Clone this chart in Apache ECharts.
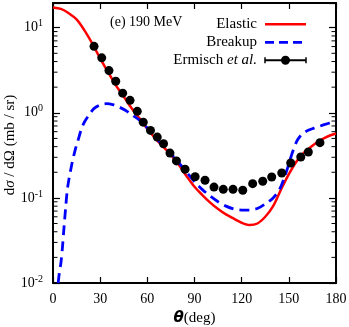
<!DOCTYPE html>
<html><head><meta charset="utf-8">
<script src="https://cdn.jsdelivr.net/npm/echarts@6/dist/echarts.min.js"></script>
<style>html,body{margin:0;padding:0;background:#fff}#c{width:349px;height:327px}</style>
</head><body><div id="c"></div>
<script>
// ---- data ----
const elasticTheta = [0,5,10,15,20,25,30,35,40,45,50,55,60,65,70,75,80,85,90,95,100,105,110,115,120,125,130,135,140,145,150,155,160,165,170,175,180];
const elasticVal   = [17.3,16.6,14.8,12.5,9.3,6.5,4.35,3.0,2.1,1.55,1.13,0.86,0.65,0.50,0.40,0.32,0.245,0.18,0.135,0.108,0.088,0.074,0.064,0.057,0.051,0.048,0.050,0.060,0.080,0.125,0.19,0.27,0.345,0.41,0.475,0.53,0.57];
const breakupTheta = [3.3,4,5,6,7,8,9,10,12,14,16,18,20,23,26,30,34,38,42,46,50,55,60,65,70,75,80,85,90,95,100,105,110,115,120,125,130,135,140,144,147,150,152,155,158,162,166,172,180];
const breakupVal   = [0.01,0.013,0.017,0.026,0.045,0.075,0.12,0.16,0.25,0.36,0.48,0.64,0.78,0.95,1.12,1.24,1.28,1.25,1.17,1.07,0.95,0.82,0.66,0.52,0.41,0.33,0.26,0.20,0.155,0.125,0.105,0.090,0.080,0.074,0.072,0.072,0.075,0.085,0.10,0.125,0.17,0.25,0.33,0.46,0.55,0.62,0.66,0.72,0.80];
const expTheta = [26.1,31.0,35.6,39.9,44.3,49.0,53.6,57.4,62.0,66.3,70.3,74.4,78.5,84.0,90.4,96.7,102.4,108.3,114.5,120.7,127.0,133.4,139.1,145.5,151.2,157.6,162.4,169.8];
const expVal   = [6.04,4.42,3.13,2.35,1.70,1.40,1.04,0.776,0.621,0.518,0.433,0.336,0.272,0.217,0.177,0.161,0.134,0.126,0.126,0.123,0.147,0.157,0.176,0.196,0.257,0.302,0.346,0.446];
const xTicks = [0,30,60,90,120,150,180];
const yDecades = [0.01,0.1,1,10];
const seriesNames = ['Elastic','Breakup','Ermisch et al.'];
const panelLabel = '(e) 190 MeV';
const yTitle = 'd{i|σ} / dΩ (mb / sr)';

// minor tick positions (axis decoration)
const minorTicks = [];
yDecades.forEach(d => { for (let m = 2; m <= 9; m++) { const v = d*m; if (v < 19.5) minorTicks.push([0, v]); } });

const zip = (a,b) => a.map((x,i)=>[x,b[i]]);
const serif = 'Liberation Serif';
const YMIN = 0.01, YMAX = 19.5;

const chart = echarts.init(document.getElementById('c'), null, {renderer:'canvas'});
const axisCommon = {
  axisLine:{show:true,onZero:false,lineStyle:{color:'#000',width:2}},
  splitLine:{show:false}
};
chart.setOption({
  animation:false,
  grid:{left:53,right:13,top:3,bottom:44,containLabel:false,outerBoundsMode:'none'},
  xAxis:[
    Object.assign({type:'value',min:0,max:180,interval:30,position:'bottom',
      axisTick:{inside:true,length:6,lineStyle:{color:'#000',width:1.2}},
      axisLabel:{fontFamily:serif,fontSize:14,color:'#000',margin:9},
      name:'{i|θ}{n|(deg)}',nameLocation:'middle',nameGap:28,
      nameTextStyle:{rich:{i:{fontFamily:'DejaVu Sans',fontStyle:'italic',fontWeight:'bold',fontSize:15,color:'#000'},n:{fontFamily:serif,fontSize:15,color:'#000'}}}
    },axisCommon),
    Object.assign({type:'value',min:0,max:180,interval:30,position:'top',
      axisTick:{inside:true,length:6,lineStyle:{color:'#000',width:1.2}},
      axisLabel:{show:false}},axisCommon)
  ],
  yAxis:[
    Object.assign({type:'log',logBase:10,min:YMIN,max:YMAX,position:'left',
      axisTick:{inside:true,length:7,lineStyle:{color:'#000',width:1.2}},
      axisLabel:{margin:10,formatter:function(v){const l=Math.log10(v);const e=Math.round(l);if(Math.abs(l-e)>1e-6)return '';return '{b|10}{s|'+e+'}';},
        rich:{b:{fontFamily:serif,fontSize:14,color:'#000',lineHeight:18},s:{fontFamily:serif,fontSize:10,color:'#000',verticalAlign:'top',lineHeight:10}}}
    },axisCommon),
    Object.assign({type:'log',logBase:10,min:YMIN,max:YMAX,position:'right',
      axisTick:{inside:true,length:7,lineStyle:{color:'#000',width:1.2}},
      axisLabel:{show:false}},axisCommon)
  ],
  series:[
    {name:seriesNames[0],type:'line',data:zip(elasticTheta,elasticVal),smooth:0.3,showSymbol:false,
      lineStyle:{color:'#f00',width:2.5},z:3},
    {name:seriesNames[1],type:'line',data:zip(breakupTheta,breakupVal),smooth:0.3,showSymbol:false,
      lineStyle:{color:'#00f',width:2.8,type:[10,6]},z:3},
    {name:seriesNames[2],type:'scatter',data:zip(expTheta,expVal),symbol:'circle',symbolSize:9,
      itemStyle:{color:'#000',opacity:1},z:5},
    {type:'custom',data:minorTicks,silent:true,z:6,clip:false,
      renderItem:function(params,api){
        const y = api.coord([0, api.value(1)])[1];
        const cs = params.coordSys;
        return {type:'group',children:[
          {type:'line',shape:{x1:cs.x,y1:y,x2:cs.x+4.5,y2:y},style:{stroke:'#000',lineWidth:1}},
          {type:'line',shape:{x1:cs.x+cs.width,y1:y,x2:cs.x+cs.width-4.5,y2:y},style:{stroke:'#000',lineWidth:1}}
        ]};
      }}
  ],
  graphic:[
    {type:'text',x:10,y:145,rotation:Math.PI/2,style:{text:yTitle,font:'15px "Liberation Serif"',fill:'#000',align:'center',verticalAlign:'middle',
      rich:{i:{fontFamily:serif,fontStyle:'italic',fontSize:15,fill:'#000'}}}},
    {type:'text',left:110,top:15,style:{text:panelLabel,font:'14px "Liberation Serif"',fill:'#000'}},
    {type:'text',x:257,y:24.5,style:{text:seriesNames[0],font:'15px "Liberation Serif"',fill:'#000',align:'right',verticalAlign:'middle'}},
    {type:'line',shape:{x1:265,y1:24.3,x2:306,y2:24.3},style:{stroke:'#f00',lineWidth:2.5}},
    {type:'text',x:257,y:42.5,style:{text:seriesNames[1],font:'15px "Liberation Serif"',fill:'#000',align:'right',verticalAlign:'middle'}},
    {type:'line',shape:{x1:265,y1:42.3,x2:306,y2:42.3},style:{stroke:'#00f',lineWidth:2.8,lineDash:[9,5]}},
    {type:'text',x:257,y:60.5,style:{text:'Ermisch {i|et al.}',font:'15px "Liberation Serif"',fill:'#000',align:'right',verticalAlign:'middle',
      rich:{i:{fontFamily:serif,fontStyle:'italic',fontSize:15,fill:'#000'}}}},
    {type:'line',shape:{x1:265,y1:60.3,x2:306,y2:60.3},style:{stroke:'#000',lineWidth:2}},
    {type:'line',shape:{x1:265,y1:57.3,x2:265,y2:63.3},style:{stroke:'#000',lineWidth:1.5}},
    {type:'line',shape:{x1:306,y1:57.3,x2:306,y2:63.3},style:{stroke:'#000',lineWidth:1.5}},
    {type:'circle',shape:{cx:285.5,cy:60.3,r:4.5},style:{fill:'#000'}}
  ]
});
</script></body></html>
